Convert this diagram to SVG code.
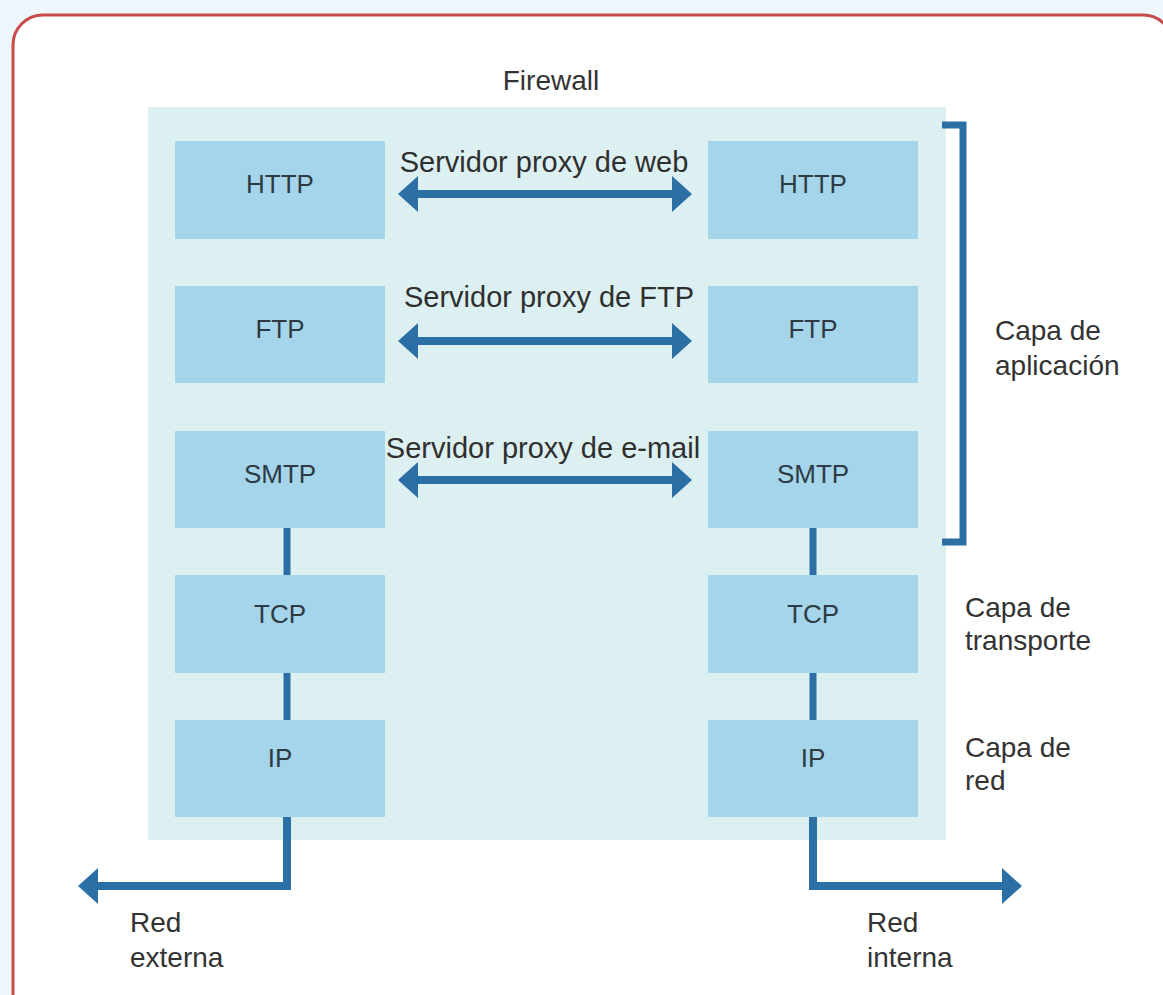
<svg xmlns="http://www.w3.org/2000/svg" width="1163" height="995" viewBox="0 0 1163 995">
  <defs>
    <style>
      .txt { font-family: "Liberation Sans", Arial, sans-serif; font-size: 28px; fill: #333333; }
      .proxy { font-family: "Liberation Sans", Arial, sans-serif; font-size: 29px; fill: #2f2f2f; text-anchor: middle; }
      .lbl { font-family: "Liberation Sans", Arial, sans-serif; font-size: 26px; fill: #2e3a44; text-anchor: middle; }
      .box { fill: #a4d5ea; }
      .conn { stroke: #2c6fa5; stroke-width: 8; fill: none; }
      .vline { stroke: #2c6fa5; stroke-width: 7; fill: none; }
    </style>
    <marker id="ah" viewBox="0 0 20 36" refX="10" refY="18" markerWidth="20" markerHeight="36" markerUnits="userSpaceOnUse" orient="auto-start-reverse">
      <path d="M0,0 L20,18 L0,36 Z" fill="#2c6fa5"/>
    </marker>
  </defs>

  <rect x="0" y="0" width="1163" height="995" fill="#edf6fa"/>
  <rect x="13" y="15" width="1160" height="1010" rx="30" ry="30" fill="#ffffff" stroke="#c94a4a" stroke-width="3"/>

  <g id="firewall">
    <rect x="148" y="107" width="798" height="733" fill="#dcf0f1"/>
    <text class="txt" x="551" y="90" text-anchor="middle" font-size="26">Firewall</text>
  </g>

  <g id="http-left"><rect class="box" x="175" y="141" width="210" height="98"/><text class="lbl" x="280" y="193">HTTP</text></g>
  <g id="http-right"><rect class="box" x="708" y="141" width="210" height="98"/><text class="lbl" x="813" y="193">HTTP</text></g>
  <g id="ftp-left"><rect class="box" x="175" y="286" width="210" height="97"/><text class="lbl" x="280" y="338">FTP</text></g>
  <g id="ftp-right"><rect class="box" x="708" y="286" width="210" height="97"/><text class="lbl" x="813" y="338">FTP</text></g>
  <g id="smtp-left"><rect class="box" x="175" y="431" width="210" height="97"/><text class="lbl" x="280" y="483">SMTP</text></g>
  <g id="smtp-right"><rect class="box" x="708" y="431" width="210" height="97"/><text class="lbl" x="813" y="483">SMTP</text></g>
  <g id="tcp-left"><rect class="box" x="175" y="575" width="210" height="98"/><text class="lbl" x="280" y="623">TCP</text></g>
  <g id="tcp-right"><rect class="box" x="708" y="575" width="210" height="98"/><text class="lbl" x="813" y="623">TCP</text></g>
  <g id="ip-left"><rect class="box" x="175" y="720" width="210" height="97"/><text class="lbl" x="280" y="767">IP</text></g>
  <g id="ip-right"><rect class="box" x="708" y="720" width="210" height="97"/><text class="lbl" x="813" y="767">IP</text></g>

  <g id="connectors">
    <line class="conn" x1="408" y1="194" x2="682" y2="194" marker-start="url(#ah)" marker-end="url(#ah)"/>
    <line class="conn" x1="408" y1="341" x2="682" y2="341" marker-start="url(#ah)" marker-end="url(#ah)"/>
    <line class="conn" x1="408" y1="480" x2="682" y2="480" marker-start="url(#ah)" marker-end="url(#ah)"/>
    <line class="vline" x1="287" y1="528" x2="287" y2="575"/>
    <line class="vline" x1="287" y1="673" x2="287" y2="720"/>
    <line class="vline" x1="813" y1="528" x2="813" y2="575"/>
    <line class="vline" x1="813" y1="673" x2="813" y2="720"/>
    <path class="conn" d="M287,817 V886 H88" stroke-width="7" marker-end="url(#ah)"/>
    <path class="conn" d="M813,817 V886 H1012" stroke-width="7" marker-end="url(#ah)"/>
  </g>

  <g id="proxy-labels">
    <text class="proxy" x="544" y="172">Servidor proxy de web</text>
    <text class="proxy" x="549" y="307">Servidor proxy de FTP</text>
    <text class="proxy" x="543" y="458">Servidor proxy de e-mail</text>
  </g>

  <g id="application-bracket">
    <path d="M942,125 H963 V542 H942" fill="none" stroke="#2c6fa5" stroke-width="7"/>
  </g>

  <g id="layer-labels">
    <text class="txt" x="995" y="340">Capa de</text>
    <text class="txt" x="995" y="375">aplicación</text>
    <text class="txt" x="965" y="617">Capa de</text>
    <text class="txt" x="965" y="650">transporte</text>
    <text class="txt" x="965" y="757">Capa de</text>
    <text class="txt" x="965" y="790">red</text>
  </g>

  <g id="network-labels">
    <text class="txt" x="130" y="932">Red</text>
    <text class="txt" x="130" y="967">externa</text>
    <text class="txt" x="867" y="932">Red</text>
    <text class="txt" x="867" y="967">interna</text>
  </g>
</svg>
